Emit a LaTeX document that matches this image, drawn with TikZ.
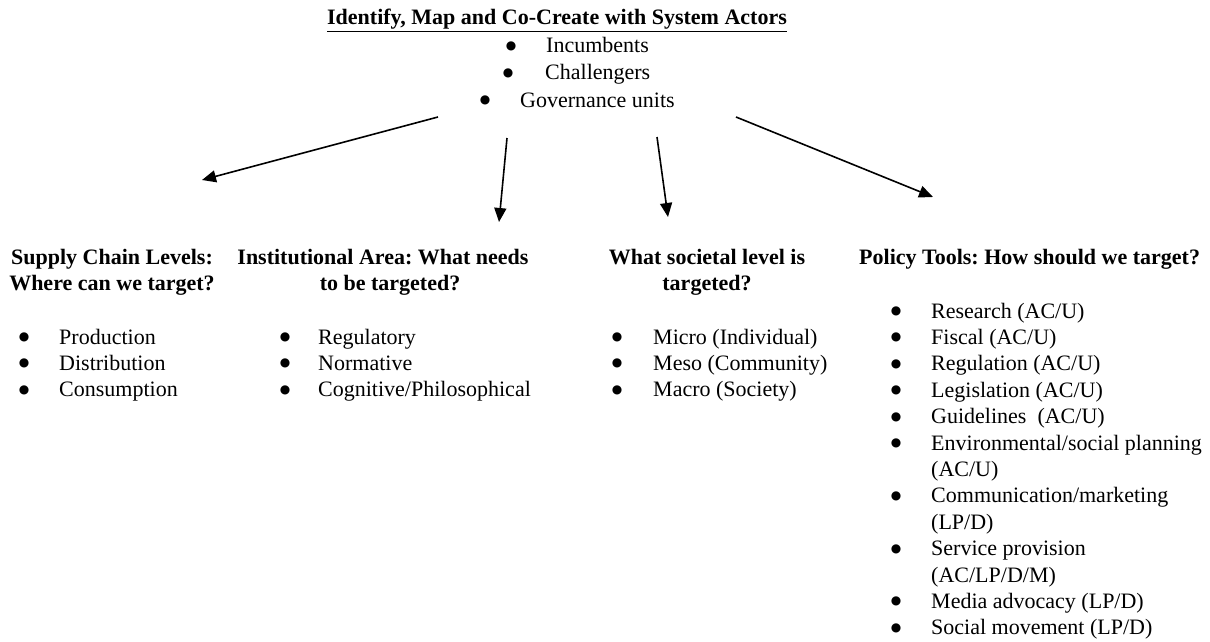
\documentclass[tikz,border=0pt]{standalone}
\usepackage{fontspec}
\setmainfont{Liberation Serif}
\newfontfamily\dotfont{DejaVu Sans}
\usetikzlibrary{arrows.meta}
\frenchspacing
\begin{document}
\begin{tikzpicture}[x=1pt,y=-1pt,
  txt/.style={inner sep=0pt, anchor=base west, font=\fontsize{22}{26.4}\selectfont},
  bul/.style={inner sep=0pt, anchor=base, yshift=3.5pt, font=\dotfont\fontsize{12}{12}\selectfont},
  head/.style={inner sep=0pt, anchor=base, font=\fontsize{22}{26.4}\selectfont\bfseries},
  arr/.style={line width=1.6pt, -{Triangle[length=14pt,width=12pt]}}]
\useasboundingbox (0,0) rectangle (1210,642);
% title and actor list
\node[head] (title) at (557,25) {\underline{Identify, Map and Co-Create with System Actors}};
\node[bul] (tb1) at (511,53) {●};
\node[txt] (tt1) at (546,53) {Incumbents};
\node[bul] (tb2) at (508,80) {●};
\node[txt] (tt2) at (545,80) {Challengers};
\node[bul] (tb3) at (485,107) {●};
\node[txt] (tt3) at (520,107) {Governance units};
% arrows
\coordinate (s1) at (438,117); \coordinate (e1) at (202,180);
\coordinate (s2) at (507,138); \coordinate (e2) at (499,222);
\coordinate (s3) at (657,137); \coordinate (e3) at (668,217);
\coordinate (s4) at (736,117); \coordinate (e4) at (933,197);
\draw[arr] (s1) -- (e1);
\draw[arr] (s2) -- (e2);
\draw[arr] (s3) -- (e3);
\draw[arr] (s4) -- (e4);
% headings
\node[head] (h1a) at (112,264) {Supply Chain Levels:};
\node[head] (h1b) at (112,290) {Where can we target?};
\node[head] (h2a) at (383,264) {Institutional Area: What needs};
\node[head] (h2b) at (390,290) {to be targeted?};
\node[head] (h3a) at (707,264) {What societal level is};
\node[head] (h3b) at (707,290) {targeted?};
\node[head, anchor=base west] (h4) at (859,264) {Policy Tools: How should we target?};
% column lists
\foreach \t [count=\i] in {Production,Distribution,Consumption}{
  \node[bul] (c1b\i) at (24,{344+26.4*(\i-1)}) {●};
  \node[txt] (c1t\i) at (59,{344+26.4*(\i-1)}) {\t};
}
\foreach \t [count=\i] in {Regulatory,Normative,{Cognitive/Philosophical}}{
  \node[bul] (c2b\i) at (285,{344+26.4*(\i-1)}) {●};
  \node[txt] (c2t\i) at (318,{344+26.4*(\i-1)}) {\t};
}
\foreach \t [count=\i] in {Micro (Individual),Meso (Community),Macro (Society)}{
  \node[bul] (c3b\i) at (617,{344+26.4*(\i-1)}) {●};
  \node[txt] (c3t\i) at (653,{344+26.4*(\i-1)}) {\t};
}
\foreach \t/\b [count=\i] in {{Research (AC/U)}/1,{Fiscal (AC/U)}/1,{Regulation (AC/U)}/1,{Legislation (AC/U)}/1,{Guidelines~ (AC/U)}/1,{Environmental/social planning}/1,{(AC/U)}/0,{Communication/marketing}/1,{(LP/D)}/0,{Service provision}/1,{(AC/LP/D/M)}/0,{Media advocacy (LP/D)}/1,{Social movement (LP/D)}/1}{
  \node[txt] (c4t\i) at (931,{318+26.4*(\i-1)}) {\t};
  \ifnum\b=1 \node[bul] (c4b\i) at (896,{318+26.4*(\i-1)}) {●};\fi
}
\end{tikzpicture}
\end{document}
